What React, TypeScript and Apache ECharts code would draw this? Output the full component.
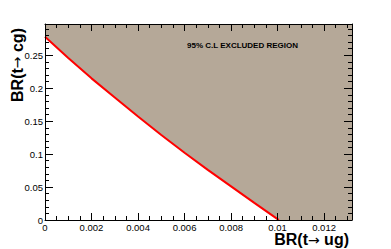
import React, { useEffect, useRef } from "react";
import * as echarts from "echarts";

const curveX = [0, 0.001, 0.002, 0.003, 0.004, 0.005, 0.006, 0.007, 0.008, 0.009, 0.01, 0.01005];
const curveY = [0.278, 0.246, 0.215, 0.186, 0.157, 0.129, 0.102, 0.076, 0.051, 0.026, 0.0013, 0];
const xMin = 0;
const xMax = 0.0132;
const xStep = 0.002;
const yMin = 0;
const yMax = 0.2975;
const yStep = 0.05;
const xTitleParts = ["BR(t", "\u2192", " ug)"];
const yTitleParts = ["BR(t", "\u2192", " cg)"];
const regionLabel = "95% C.L EXCLUDED REGION";

const FONT = "Liberation Sans, Arial, Helvetica, sans-serif";

export default function App() {
  const ref = useRef<HTMLDivElement>(null);
  useEffect(() => {
    if (!ref.current) return;
    const chart = echarts.init(ref.current, undefined, { renderer: "svg" });
    const curve = curveX.map((x, i) => [x, curveY[i]]);
    const areaData = [...curve, [xMax, 0]];
    const fmt = (v: number) => String(+v.toFixed(4));
    const axisCommon = {
      type: "value" as const,
      z: 10,
      axisLine: { show: true, onZero: false, lineStyle: { color: "#000", width: 1 } },
      splitLine: { show: false },
    };
    const xTick = { show: true, inside: true, length: 7, lineStyle: { color: "#000" } };
    const xMinor = { show: true, splitNumber: 4, length: 4, lineStyle: { color: "#000" } };
    const yTick = { show: true, inside: true, length: 8, lineStyle: { color: "#000" } };
    const yMinor = { show: true, splitNumber: 5, length: 4, lineStyle: { color: "#000" } };
    const labelStyle = {
      show: true,
      showMaxLabel: false,
      margin: 2,
      fontSize: 9.5,
      fontFamily: FONT,
      color: "#000",
      formatter: fmt,
    };
    const titleRich = {
      m: { fontSize: 16, fontWeight: "bold", fontFamily: FONT, fill: "#000" },
      a: { fontSize: 14, fontWeight: "normal", fontFamily: "DejaVu Sans", fill: "#000" },
    };
    const toRich = (p: string[]) => `{m|${p[0]}}{a|${p[1]}}{m|${p[2]}}`;
    chart.setOption({
      animation: false,
      backgroundColor: "#fff",
      grid: { left: 45, right: 39, top: 24, bottom: 29, containLabel: false },
      xAxis: [
        { ...axisCommon, min: xMin, max: xMax, interval: xStep, position: "bottom", axisTick: xTick, minorTick: xMinor, axisLabel: labelStyle },
        { ...axisCommon, min: xMin, max: xMax, interval: xStep, position: "top", axisTick: xTick, minorTick: xMinor, axisLabel: { show: false } },
      ],
      yAxis: [
        { ...axisCommon, min: yMin, max: yMax, interval: yStep, position: "left", axisTick: yTick, minorTick: yMinor, axisLabel: labelStyle },
        { ...axisCommon, min: yMin, max: yMax, interval: yStep, position: "right", axisTick: yTick, minorTick: yMinor, axisLabel: { show: false } },
      ],
      series: [
        {
          type: "line",
          data: areaData,
          symbol: "none",
          lineStyle: { width: 0 },
          areaStyle: { origin: "end", color: "#b5a898", opacity: 1 },
          silent: true,
          z: 1,
        },
        {
          type: "line",
          data: curve,
          symbol: "none",
          smooth: false,
          lineStyle: { width: 2, color: "#ff0000" },
          z: 3,
        },
      ],
      graphic: [
        {
          type: "text",
          x: 242.5,
          y: 45,
          style: {
            text: regionLabel,
            fontSize: 8,
            fontWeight: "bold",
            fontFamily: FONT,
            fill: "#000",
            align: "center",
            verticalAlign: "middle",
          },
          z: 10,
        },
        {
          type: "text",
          x: 349,
          y: 239.5,
          style: {
            text: toRich(xTitleParts),
            rich: titleRich,
            align: "right",
            verticalAlign: "middle",
          },
          z: 10,
        },
        {
          type: "text",
          x: 17,
          y: 65,
          rotation: Math.PI / 2,
          style: {
            text: toRich(yTitleParts),
            rich: titleRich,
            align: "center",
            verticalAlign: "middle",
          },
          z: 10,
        },
      ],
    });
    return () => chart.dispose();
  }, []);
  return <div ref={ref} style={{ width: 391, height: 249, position: "absolute", left: 0, top: 0 }} />;
}
